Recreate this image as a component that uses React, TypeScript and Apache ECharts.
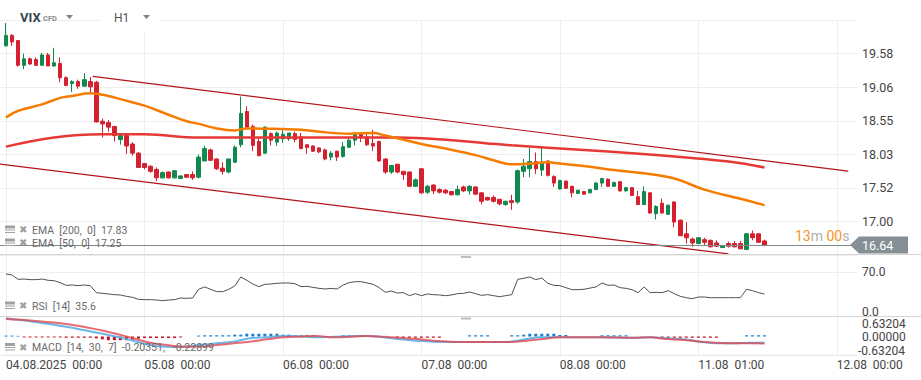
import React, { useEffect, useRef } from 'react';
import * as echarts from 'echarts';

// ---------- data ----------
const dayTicks = [0, 23, 46, 69, 92, 115, 138];
const dayLabels = ['04.08.2025  00:00', '05.08  00:00', '06.08  00:00', '07.08  00:00', '08.08  00:00', '11.08  01:00', '12.08  00:00'];

// hourly candles: [open, high, low, close]
const ohlc: [number, number, number, number][] = [
  [19.70, 20.05, 19.69, 19.86], [19.86, 19.88, 19.70, 19.76], [19.78, 19.79, 19.38, 19.40], [19.40, 19.58, 19.34, 19.50],
  [19.50, 19.52, 19.41, 19.42], [19.49, 19.52, 19.39, 19.40], [19.40, 19.59, 19.39, 19.56], [19.56, 19.59, 19.39, 19.39],
  [19.39, 19.67, 19.38, 19.44], [19.43, 19.52, 19.14, 19.21], [19.21, 19.23, 19.08, 19.09], [19.12, 19.17, 18.99, 19.15],
  [19.15, 19.18, 19.04, 19.08], [19.08, 19.28, 19.07, 19.18], [19.15, 19.22, 18.99, 19.07], [19.14, 19.16, 18.52, 18.53],
  [18.54, 18.58, 18.29, 18.50], [18.52, 18.56, 18.38, 18.45], [18.46, 18.47, 18.23, 18.32], [18.26, 18.35, 18.18, 18.32],
  [18.32, 18.36, 18.04, 18.16], [18.19, 18.22, 18.01, 18.05], [18.05, 18.07, 17.83, 17.83], [17.89, 17.90, 17.80, 17.83],
  [17.85, 17.86, 17.75, 17.77], [17.80, 17.83, 17.62, 17.67], [17.67, 17.77, 17.66, 17.75], [17.76, 17.77, 17.66, 17.67],
  [17.67, 17.79, 17.66, 17.78], [17.66, 17.71, 17.65, 17.70], [17.72, 17.73, 17.67, 17.68], [17.72, 17.77, 17.64, 17.67],
  [17.68, 18.03, 17.66, 17.99], [17.93, 18.16, 17.93, 18.12], [18.10, 18.12, 17.93, 17.94], [17.96, 17.97, 17.79, 17.81],
  [17.82, 17.91, 17.72, 17.77], [17.76, 17.97, 17.74, 17.96], [17.91, 18.17, 17.90, 18.14], [18.18, 18.92, 18.14, 18.66],
  [18.69, 18.77, 18.43, 18.45], [18.46, 18.49, 18.08, 18.17], [18.23, 18.29, 18.01, 18.01], [18.05, 18.46, 18.04, 18.45],
  [18.35, 18.37, 18.17, 18.25], [18.22, 18.38, 18.16, 18.36], [18.27, 18.40, 18.21, 18.34], [18.27, 18.36, 18.24, 18.36],
  [18.35, 18.38, 18.22, 18.26], [18.30, 18.36, 18.11, 18.12], [18.18, 18.18, 18.04, 18.14], [18.16, 18.17, 18.07, 18.08],
  [18.13, 18.14, 18.05, 18.07], [18.10, 18.12, 17.94, 17.96], [17.99, 18.08, 17.94, 18.05], [18.08, 18.09, 17.93, 17.99],
  [18.00, 18.22, 17.98, 18.15], [18.14, 18.28, 18.13, 18.25], [18.25, 18.37, 18.17, 18.35], [18.35, 18.37, 18.22, 18.29],
  [18.30, 18.37, 18.16, 18.18], [18.20, 18.41, 18.08, 18.16], [18.23, 18.24, 17.92, 17.93], [17.96, 17.97, 17.73, 17.76],
  [17.76, 17.86, 17.73, 17.86], [17.88, 17.88, 17.74, 17.76], [17.77, 17.77, 17.64, 17.72], [17.76, 17.77, 17.53, 17.54],
  [17.54, 17.66, 17.53, 17.64], [17.81, 17.82, 17.42, 17.44], [17.45, 17.56, 17.42, 17.54], [17.56, 17.57, 17.42, 17.47],
  [17.49, 17.51, 17.43, 17.45], [17.48, 17.50, 17.42, 17.44], [17.46, 17.47, 17.40, 17.41], [17.41, 17.55, 17.40, 17.49],
  [17.53, 17.55, 17.45, 17.47], [17.47, 17.56, 17.41, 17.54], [17.53, 17.54, 17.41, 17.42], [17.44, 17.45, 17.26, 17.31],
  [17.37, 17.38, 17.32, 17.33], [17.37, 17.40, 17.29, 17.31], [17.34, 17.35, 17.25, 17.27], [17.26, 17.32, 17.24, 17.31],
  [17.32, 17.41, 17.18, 17.29], [17.30, 17.80, 17.27, 17.78], [17.77, 17.96, 17.68, 17.85], [17.81, 18.13, 17.68, 17.92],
  [17.92, 18.06, 17.73, 17.81], [17.79, 18.13, 17.70, 17.91], [17.93, 17.94, 17.69, 17.71], [17.69, 17.71, 17.53, 17.59],
  [17.50, 17.64, 17.49, 17.63], [17.62, 17.63, 17.50, 17.51], [17.54, 17.55, 17.37, 17.44], [17.43, 17.49, 17.42, 17.48],
  [17.46, 17.47, 17.41, 17.42], [17.44, 17.50, 17.43, 17.49], [17.49, 17.61, 17.48, 17.59], [17.59, 17.67, 17.53, 17.66],
  [17.65, 17.66, 17.53, 17.54], [17.54, 17.61, 17.53, 17.60], [17.61, 17.62, 17.46, 17.47], [17.47, 17.53, 17.46, 17.52],
  [17.52, 17.53, 17.39, 17.40], [17.38, 17.47, 17.25, 17.26], [17.26, 17.54, 17.25, 17.46], [17.44, 17.45, 17.12, 17.13],
  [17.12, 17.25, 17.03, 17.23], [17.28, 17.35, 17.12, 17.13], [17.11, 17.26, 17.10, 17.25], [17.30, 17.31, 16.91, 16.99],
  [17.02, 17.03, 16.78, 16.78], [16.81, 16.99, 16.66, 16.75], [16.73, 16.75, 16.61, 16.67], [16.66, 16.76, 16.65, 16.75],
  [16.72, 16.75, 16.63, 16.68], [16.71, 16.72, 16.60, 16.61], [16.67, 16.71, 16.61, 16.62], [16.60, 16.64, 16.59, 16.63],
  [16.66, 16.69, 16.60, 16.62], [16.66, 16.70, 16.60, 16.61], [16.66, 16.70, 16.57, 16.58], [16.57, 16.82, 16.56, 16.81],
  [16.81, 16.86, 16.71, 16.75], [16.81, 16.82, 16.67, 16.68], [16.70, 16.72, 16.62, 16.64],
];

// EMA readings [candle index, value]
const ema200Pts: [number, number][] = [
  [0, 18.15], [8, 18.29], [16, 18.34], [23, 18.34], [32, 18.29], [50, 18.29], [65, 18.29], [74, 18.25],
  [80, 18.20], [84, 18.17], [96, 18.10], [104, 18.05], [112, 17.99], [120, 17.92], [126, 17.83],
];
const ema50Pts: [number, number][] = [
  [0, 18.60], [2, 18.70], [6, 18.80], [9, 18.90], [11, 18.93], [14, 18.97], [17, 18.93], [19, 18.88], [23, 18.78],
  [27, 18.64], [30, 18.54], [32, 18.50], [35, 18.43], [38, 18.40], [40, 18.43], [46, 18.42], [49, 18.41], [53, 18.37],
  [57, 18.35], [61, 18.36], [63, 18.32], [65, 18.28], [69, 18.19], [73, 18.12], [78, 18.02], [81, 17.94], [84, 17.88],
  [87, 17.89], [90, 17.91], [92, 17.89], [97, 17.84], [101, 17.79], [106, 17.74], [111, 17.66], [116, 17.49],
  [122, 17.35], [126, 17.25],
];
// trend channel endpoints [index, value]
const channelUpper: [number, number][] = [[14.4, 19.23], [139.9, 17.773]];
const channelLower: [number, number][] = [[-1.0, 17.882], [120.0, 16.503]];

const rsiValues = [
  67.4, 65.8, 58.9, 59.4, 58.4, 58.4, 59.4, 57.3, 56.8, 53.6, 49.4, 49.9, 48.9, 49.9, 48.9, 37.8, 36.7, 35.7, 34.6, 34.1,
  32.0, 30.4, 27.2, 26.7, 26.7, 26.1, 25.1, 26.1, 26.7, 29.3, 28.8, 29.3, 43.1, 46.8, 43.1, 39.4, 39.4, 43.1, 48.3, 62.6,
  57.3, 51.5, 47.3, 51.0, 51.5, 52.6, 53.1, 53.1, 52.0, 47.3, 47.8, 46.2, 44.6, 43.6, 44.6, 43.6, 49.9, 53.6, 55.2, 55.2,
  53.1, 51.0, 45.7, 38.3, 40.4, 37.2, 37.8, 33.0, 36.2, 33.0, 35.7, 34.6, 34.1, 33.0, 34.1, 36.2, 36.7, 38.8, 36.2, 33.5,
  34.6, 33.0, 31.4, 33.0, 34.6, 58.9, 60.5, 62.6, 58.4, 61.0, 52.6, 49.4, 48.9, 45.7, 42.5, 42.5, 43.1, 45.0, 46.8, 53.1,
  49.4, 49.9, 45.7, 44.6, 42.5, 37.8, 46.8, 37.8, 38.3, 37.8, 41.0, 36.2, 32.0, 29.8, 28.2, 30.9, 30.9, 29.8, 29.8, 29.8,
  29.8, 29.8, 29.8, 43.1, 41.0, 37.8, 35.6,
];

const macdPts: [number, number][] = [
  [0, 0.589], [4.5, 0.481], [10, 0.319], [15.6, 0.103], [18.4, -0.005], [21.1, -0.135], [23.9, -0.275], [26.7, -0.329],
  [29.5, -0.329], [32.2, -0.275], [35, -0.221], [37.8, -0.167], [40.5, -0.059], [43.3, -0.027], [46.1, 0.016], [48.8, 0.010],
  [51.6, -0.027], [54.4, -0.005], [59.9, 0.016], [62.7, -0.027], [65.4, -0.092], [68.2, -0.135], [71, -0.167], [73.8, -0.178],
  [79.3, -0.178], [83.7, -0.167], [86.5, -0.081], [88.7, -0.027], [92, -0.027], [98.7, -0.027], [104.2, -0.038], [107, -0.027],
  [109.7, -0.059], [112.5, -0.092], [115.3, -0.167], [118, -0.221], [120.8, -0.221], [123.6, -0.200], [126, -0.2035],
];
const signalPts: [number, number][] = [
  [0, 0.567], [4.5, 0.513], [10, 0.405], [15.6, 0.211], [18.4, 0.081], [21.1, -0.059], [23.9, -0.200], [26.7, -0.275],
  [29.5, -0.329], [32.2, -0.329], [35, -0.275], [37.8, -0.221], [40.5, -0.167], [43.3, -0.092], [46.1, -0.027], [48.8, -0.005],
  [51.6, 0.016], [54.4, -0.027], [59.9, 0.016], [62.7, -0.005], [65.4, -0.038], [68.2, -0.081], [71, -0.135], [73.8, -0.167],
  [79.3, -0.178], [83.7, -0.178], [86.5, -0.135], [88.7, -0.092], [92, -0.027], [98.7, -0.027], [104.2, -0.038], [107, -0.027],
  [109.7, -0.081], [112.5, -0.113], [115.3, -0.167], [118, -0.200], [120.8, -0.221], [123.6, -0.221], [126, -0.229],
];
const histValues = [
  0.03, 0.03, 0.02, -0.03, -0.03, -0.03, -0.03, -0.03, -0.03, -0.03, -0.04, -0.04, -0.04, -0.04, -0.04, -0.06, -0.09, -0.12, -0.12, -0.12,
  -0.12, -0.10, -0.07, -0.05, -0.05, -0.05, -0.05, -0.05, -0.05, -0.03, 0, 0, 0.03, 0.04, 0.04, 0.04, 0.04, 0.04, 0.06, 0.06,
  0.09, 0.09, 0.09, 0.09, 0.09, 0.09, 0.06, 0.06, 0.04, 0.04, 0.04, 0.04, 0, 0, 0, 0, 0.04, 0.04, 0.04, 0.04,
  0.04, 0, 0, 0, 0, -0.04, -0.04, -0.04, -0.04, -0.04, -0.04, -0.04, -0.04, 0, 0, 0, 0, 0.04, 0.04, 0.04,
  0.04, 0, 0, 0, 0.04, 0.04, 0.06, 0.09, 0.09, 0.09, 0.09, 0.09, 0.05, 0.05, 0, 0, 0, 0, 0, 0.04,
  0.04, 0.04, 0.04, 0.04, 0, 0, 0, 0, 0, -0.04, -0.04, -0.04, -0.04, -0.04, -0.04, -0.04, -0.04, -0.04, -0.04,
  0, 0, 0, 0, 0.04, 0.04, 0.04, 0.04,
];

const rsiTicks = [0, 70];
const macdTicks = [0.63204, 0, -0.63204];
const legendRows = ['EMA  [200,  0]  17.83', 'EMA  [50,  0]  17.25', 'RSI  [14]  35.6', 'MACD  [14,  30,  7]  -0.20351,   -0.22899'];

// ---------- layout ----------
const X_MIN = -0.997;
const X_MAX = 141.36;
const PLOT_W = 857;
const FONT = 'Roboto, "Noto Sans", sans-serif';
const UP = '#12894f';
const DOWN = '#d4202f';

function xAxisFor(gridIndex: number, labels: boolean) {
  return {
    type: 'value',
    gridIndex,
    min: X_MIN,
    max: X_MAX,
    axisLine: { show: false },
    axisTick: { show: false, customValues: dayTicks },
    axisLabel: {
      show: labels,
      customValues: dayTicks,
      formatter: (v: number) => {
        const k = dayTicks.indexOf(Math.round(v));
        return k >= 0 ? dayLabels[k] : '';
      },
      align: 'left',
      color: '#444',
      fontSize: 12,
      fontFamily: FONT,
      margin: 3,
    },
    splitLine: { show: true, lineStyle: { color: '#eeeeee', width: 1 } },
  };
}

export default function App() {
  const ref = useRef<HTMLDivElement>(null);
  useEffect(() => {
    const chart = echarts.init(ref.current!, null, { renderer: 'svg' });
    const lastClose = ohlc[ohlc.length - 1][3];
    chart.setOption({
      animation: false,
      backgroundColor: '#ffffff',
      grid: [
        { left: 0, top: 20.2, width: PLOT_W, height: 234.8 },
        { left: 0, top: 253.4, width: PLOT_W, height: 63.1 },
        { left: 0, top: 317, width: PLOT_W, height: 39 },
      ],
      xAxis: [xAxisFor(0, false), xAxisFor(1, false), xAxisFor(2, true)],
      yAxis: [
        {
          type: 'value', gridIndex: 0, position: 'right', min: 16.484375, max: 20.09375, interval: 0.515625,
          axisLine: { show: false }, axisTick: { show: false },
          axisLabel: {
            formatter: (v: number) => (v > 20 || v < 16.6 ? '' : v.toFixed(2)),
            color: '#444', fontSize: 12.5, fontFamily: FONT, margin: 5,
          },
          splitLine: { show: true, lineStyle: { color: '#eeeeee' } },
        },
        {
          type: 'value', gridIndex: 1, position: 'right', min: 0, max: 100,
          axisLine: { show: false }, axisTick: { show: false, customValues: [70] },
          axisLabel: { show: false },
          splitLine: { show: true, lineStyle: { color: '#eeeeee' } },
        },
        {
          type: 'value', gridIndex: 2, position: 'right', min: -0.63204, max: 0.63204,
          axisLine: { show: false }, axisTick: { show: false },
          axisLabel: { show: false }, splitLine: { show: false },
        },
      ],
      series: [
        {
          type: 'candlestick', xAxisIndex: 0, yAxisIndex: 0, barWidth: 4,
          data: ohlc.map((d, i) => [i, d[0], d[3], d[2], d[1]]),
          encode: { x: 0, y: [1, 2, 3, 4] },
          itemStyle: { color: UP, color0: DOWN, borderColor: UP, borderColor0: DOWN, borderWidth: 1 },
          markLine: {
            silent: true, symbol: ['none', 'none'], label: { show: false },
            lineStyle: { color: '#7f898e', width: 1, type: 'solid' },
            data: [{ yAxis: lastClose }],
          },
        },
        {
          type: 'line', xAxisIndex: 0, yAxisIndex: 0, data: ema200Pts, smooth: 0.4, showSymbol: false,
          lineStyle: { color: '#e53935', width: 2.5 }, itemStyle: { color: '#e53935' },
        },
        {
          type: 'line', xAxisIndex: 0, yAxisIndex: 0, data: ema50Pts, smooth: 0.4, showSymbol: false,
          lineStyle: { color: '#f57c00', width: 2.5 }, itemStyle: { color: '#f57c00' },
        },
        {
          type: 'line', xAxisIndex: 0, yAxisIndex: 0, data: channelUpper, showSymbol: false,
          lineStyle: { color: '#b3141c', width: 1.2 },
        },
        {
          type: 'line', xAxisIndex: 0, yAxisIndex: 0, data: channelLower, showSymbol: false,
          lineStyle: { color: '#b3141c', width: 1.2 },
        },
        {
          type: 'line', xAxisIndex: 1, yAxisIndex: 1, data: rsiValues.map((v, i) => [i, v]), showSymbol: false,
          lineStyle: { color: '#48535a', width: 1 },
        },
        {
          type: 'bar', xAxisIndex: 2, yAxisIndex: 2, barWidth: 3,
          data: histValues.map((v, i) => ({ value: [i, v], itemStyle: { color: v >= 0 ? '#1b7fd1' : '#c4101f' } })),
        },
        {
          type: 'line', xAxisIndex: 2, yAxisIndex: 2, data: macdPts, smooth: 0.4, showSymbol: false,
          lineStyle: { color: '#5aaee6', width: 2, opacity: 0.9 },
        },
        {
          type: 'line', xAxisIndex: 2, yAxisIndex: 2, data: signalPts, smooth: 0.4, showSymbol: false,
          lineStyle: { color: '#e0474f', width: 2, opacity: 0.8 },
        },
      ],
    });

    const py = chart.convertToPixel({ yAxisIndex: 0 }, lastClose) as number;
    const rsiY = rsiTicks.map((v) => chart.convertToPixel({ yAxisIndex: 1 }, v) as number);
    const macdY = macdTicks.map((v) => chart.convertToPixel({ yAxisIndex: 2 }, v) as number);
    const legendY = [229.5, 242.5, 305.5, 347];

    const g: any[] = [];
    // header
    g.push({ type: 'rect', shape: { x: 100, y: 0, width: 60, height: 32 }, style: { fill: '#fff' }, z: 100 });
    g.push({ type: 'text', x: 20, y: 17, z: 101, style: { text: 'VIX', fill: '#37474f', fontSize: 13, fontWeight: 'bold', fontFamily: FONT, verticalAlign: 'middle' } });
    g.push({ type: 'text', x: 43, y: 18, z: 101, style: { text: 'CFD', fill: '#8a8a8a', fontSize: 7.5, fontWeight: 'bold', fontFamily: FONT, verticalAlign: 'middle' } });
    g.push({ type: 'polygon', z: 101, shape: { points: [[66, 15], [73, 15], [69.5, 19]] }, style: { fill: '#808080' } });
    g.push({ type: 'text', x: 114, y: 18, z: 101, style: { text: 'H1', fill: '#555', fontSize: 12, fontFamily: FONT, verticalAlign: 'middle' } });
    g.push({ type: 'polygon', z: 101, shape: { points: [[143, 15], [150, 15], [146.5, 19]] }, style: { fill: '#808080' } });

    // pane separators
    g.push({ type: 'line', z: 50, shape: { x1: 0, y1: 254.5, x2: 921, y2: 254.5 }, style: { stroke: '#d5d5d5', lineWidth: 1 } });
    g.push({ type: 'line', z: 50, shape: { x1: 0, y1: 316.5, x2: 921, y2: 316.5 }, style: { stroke: '#d5d5d5', lineWidth: 1 } });
    g.push({ type: 'line', z: 50, shape: { x1: 0, y1: 355.5, x2: PLOT_W, y2: 355.5 }, style: { stroke: '#e6e6e6', lineWidth: 1 } });
    g.push({ type: 'rect', z: 51, shape: { x: 461, y: 256, width: 10, height: 2 }, style: { fill: '#bdbdbd' } });
    g.push({ type: 'rect', z: 51, shape: { x: 461, y: 317.5, width: 10, height: 2 }, style: { fill: '#bdbdbd' } });

    // legends
    legendRows.forEach((t, k) => {
      const y = legendY[k];
      g.push({ type: 'rect', z: 60, shape: { x: 5, y: y - 4, width: 10, height: 3 }, style: { fill: '#a0a0a0' } });
      g.push({ type: 'rect', z: 60, shape: { x: 5, y: y, width: 10, height: 1 }, style: { fill: '#a0a0a0' } });
      g.push({ type: 'rect', z: 60, shape: { x: 5, y: y + 2.5, width: 10, height: 1 }, style: { fill: '#a0a0a0' } });
      g.push({ type: 'text', x: 19, y: y, z: 60, style: { text: '\u2716', fill: '#a0a0a0', fontSize: 10, fontFamily: 'DejaVu Sans', verticalAlign: 'middle' } });
      g.push({ type: 'text', x: 32, y: y + 0.5, z: 60, style: { text: t, fill: '#6a6a6a', fontSize: 10.5, fontFamily: FONT, verticalAlign: 'middle' } });
    });

    // countdown
    g.push({
      type: 'text', x: 795, y: 236, z: 60,
      style: {
        text: '{o|13}{g|m} {o|00}{g|s}', verticalAlign: 'middle', fontFamily: FONT, fontSize: 14,
        rich: { o: { fill: '#f5941f', fontSize: 14, fontFamily: FONT }, g: { fill: '#b0b0b0', fontSize: 14, fontFamily: FONT } },
      },
    });

    // last price box
    g.push({ type: 'polygon', z: 70, shape: { points: [[850, py], [859, py - 8.5], [908, py - 8.5], [908, py + 8.5], [859, py + 8.5]] }, style: { fill: '#868f94' } });
    g.push({ type: 'text', x: 862, y: py + 0.5, z: 71, style: { text: lastClose.toFixed(2), fill: '#ffffff', fontSize: 12.5, fontFamily: FONT, verticalAlign: 'middle' } });

    // RSI / MACD axis labels
    g.push({ type: 'text', x: 862, y: rsiY[1], z: 60, style: { text: rsiTicks[1].toFixed(1), fill: '#444', fontSize: 12, fontFamily: FONT, verticalAlign: 'middle' } });
    g.push({ type: 'text', x: 862, y: rsiY[0] - 5, z: 60, style: { text: rsiTicks[0].toFixed(1), fill: '#444', fontSize: 12, fontFamily: FONT, verticalAlign: 'middle' } });
    g.push({ type: 'text', x: 862, y: macdY[0] + 7, z: 60, style: { text: macdTicks[0].toFixed(5), fill: '#444', fontSize: 12, fontFamily: FONT, verticalAlign: 'middle' } });
    g.push({ type: 'text', x: 862, y: macdY[1], z: 60, style: { text: macdTicks[1].toFixed(5), fill: '#444', fontSize: 12, fontFamily: FONT, verticalAlign: 'middle' } });
    g.push({ type: 'text', x: 858, y: macdY[2] - 5, z: 60, style: { text: macdTicks[2].toFixed(5), fill: '#444', fontSize: 12, fontFamily: FONT, verticalAlign: 'middle' } });

    chart.setOption({ graphic: g });
    return () => chart.dispose();
  }, []);
  return <div ref={ref} style={{ position: 'fixed', left: 0, top: 0, width: 921, height: 380, background: '#fff' }} />;
}
